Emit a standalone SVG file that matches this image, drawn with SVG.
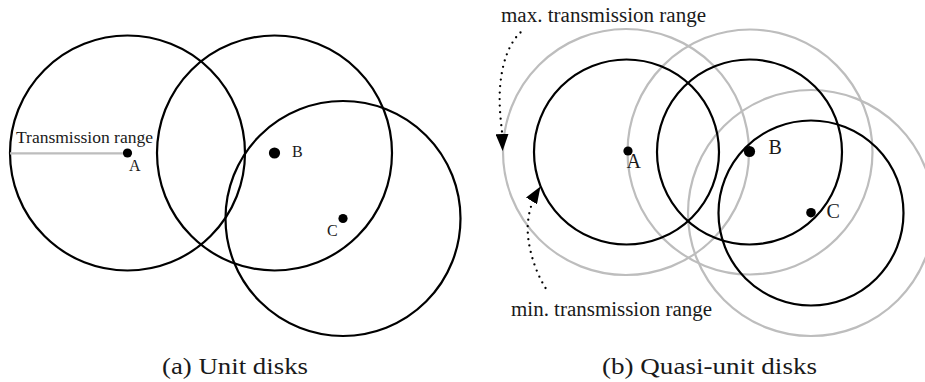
<svg xmlns="http://www.w3.org/2000/svg" width="925" height="382" viewBox="0 0 925 382">
<style>
.blk{fill:none;stroke:#000;stroke-width:2.2}
.gry{fill:none;stroke:#bdbdbd;stroke-width:2.2}
.dot{fill:#000}
.lbl{font-family:"Liberation Serif",serif;font-size:16px;fill:#1a1a1a}
.rl{font-family:"Liberation Serif",serif;font-size:20px;fill:#1a1a1a}
.cap{font-family:"Liberation Serif",serif;font-size:23px;fill:#1a1a1a}
.dots{fill:none;stroke:#000;stroke-width:2.3;stroke-linecap:round;stroke-dasharray:0 6.5}
</style>
<defs>
<marker id="ah" markerWidth="17" markerHeight="13" refX="17" refY="6.5" orient="auto" markerUnits="userSpaceOnUse">
<path d="M0,0 L17,6.5 L0,13 Z" fill="#000"/>
</marker>
</defs>
<rect width="925" height="382" fill="#fff"/>

<!-- Left panel: unit disks -->
<g id="left-A">
<circle class="blk" cx="127.5" cy="153" r="117.5"/>
<circle class="dot" cx="127.5" cy="153" r="4.6"/>
<text class="lbl" x="129" y="171">A</text>
</g>
<g id="left-B">
<circle class="blk" cx="274.5" cy="153" r="117.5"/>
<circle class="dot" cx="274.5" cy="153" r="5.6"/>
<text class="lbl" x="292" y="157">B</text>
</g>
<g id="left-C">
<circle class="blk" cx="343" cy="218.5" r="117.5"/>
<circle class="dot" cx="343" cy="218.5" r="4.6"/>
<text class="lbl" x="327" y="236">C</text>
</g>
<g id="left-range">
<line x1="10" y1="153.3" x2="123" y2="153.3" stroke="#bdbdbd" stroke-width="2.2"/>
<text class="lbl" x="16" y="142.5" textLength="137" lengthAdjust="spacingAndGlyphs">Transmission range</text>
</g>

<!-- Right panel: quasi-unit disks -->
<g id="right-max">
<circle class="gry" cx="626" cy="152" r="123"/>
<circle class="gry" cx="750" cy="152" r="122.5"/>
<circle class="gry" cx="811" cy="213" r="123"/>
</g>
<g id="right-A">
<circle class="blk" cx="626.5" cy="152" r="92.5"/>
<circle class="dot" cx="628" cy="151" r="4.6"/>
<text class="rl" x="626.5" y="168">A</text>
</g>
<g id="right-B">
<circle class="blk" cx="749.5" cy="152" r="92.5"/>
<circle class="dot" cx="749.5" cy="151.5" r="5.6"/>
<text class="rl" x="768.5" y="154">B</text>
</g>
<g id="right-C">
<circle class="blk" cx="811" cy="213" r="92.5"/>
<circle class="dot" cx="811" cy="212.7" r="4.8"/>
<text class="rl" x="826.5" y="217.5">C</text>
</g>

<g id="connectors">
<path class="dots" d="M520.5,32.5 C504,48 498,80 500,110 C500.5,120 501.5,126 502,132"/>
<line x1="502" y1="133" x2="502.6" y2="151" stroke="none" marker-end="url(#ah)"/>
<path class="dots" d="M545.5,288 C533,268 526,240 528,222 C529,212 531,206 533,201"/>
<line x1="532" y1="200" x2="540.5" y2="186.5" stroke="none" marker-end="url(#ah)"/>
</g>

<g id="range-labels">
<text class="rl" x="501" y="22" textLength="205" lengthAdjust="spacingAndGlyphs">max. transmission range</text>
<text class="rl" x="511" y="315.5" textLength="201" lengthAdjust="spacingAndGlyphs">min. transmission range</text>
</g>

<g id="captions">
<text class="cap" x="162" y="373.5" textLength="146" lengthAdjust="spacingAndGlyphs">(a) Unit disks</text>
<text class="cap" x="602" y="373.5" textLength="215" lengthAdjust="spacingAndGlyphs">(b) Quasi-unit disks</text>
</g>
</svg>
